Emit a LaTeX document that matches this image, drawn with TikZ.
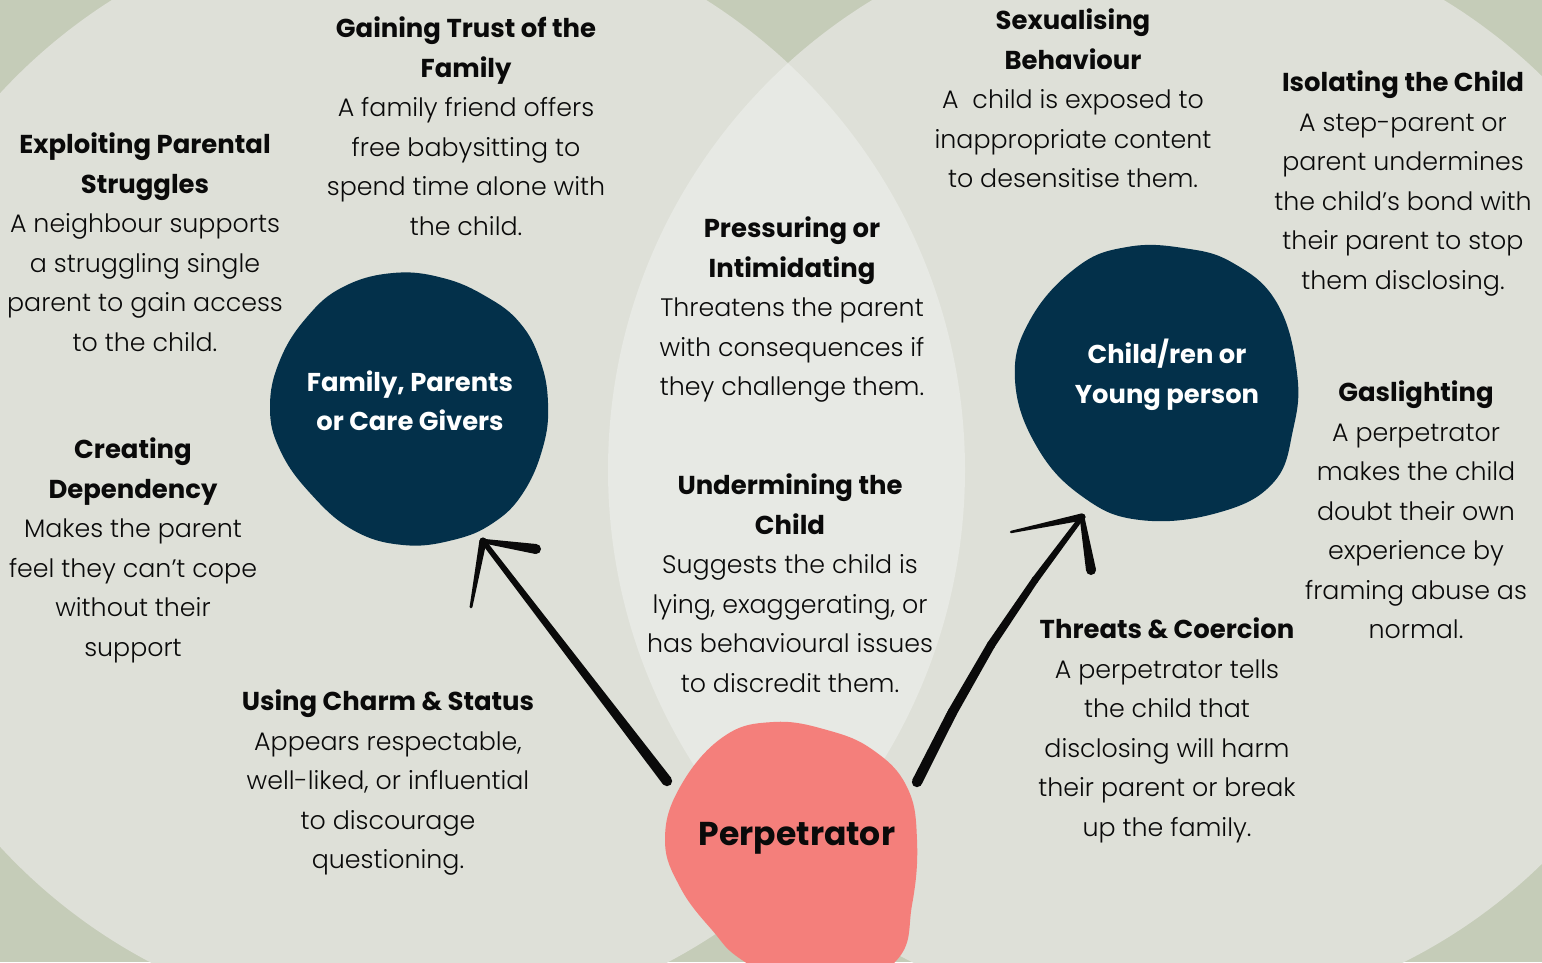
\documentclass[tikz,border=0pt]{standalone}
\usepackage{fontspec}
\setmainfont{Poppins}[UprightFont={* Light},BoldFont={* Bold}]
\usetikzlibrary{calc}

\definecolor{sage}{HTML}{C5CCB8}
\definecolor{mist}{HTML}{DEE0D8}
\definecolor{lensfill}{HTML}{E7E9E4}
\definecolor{navy}{HTML}{03304A}
\definecolor{salmon}{HTML}{F47F7B}
\definecolor{ink}{HTML}{0A0A0A}

% tapered brush segment: from #1 (half width #3) to #2 (half width #4)
\newcommand\brushstroke[4]{%
  \fill[ink] ($(#1)!#3!90:(#2)$) -- ($(#2)!#4!-90:(#1)$) -- ($(#2)!#4!90:(#1)$) -- ($(#1)!#3!-90:(#2)$) -- cycle;
  \fill[ink] (#1) circle[radius=#3];
  \fill[ink] (#2) circle[radius=#4];}
% bold heading line inside a description
\newcommand\blurbhead[1]{{\fontsize{25.9}{39.5}\selectfont\bfseries #1}}

\begin{document}
\begin{tikzpicture}[x=1pt,y=-1pt,
  blurb/.style={align=center,anchor=north,inner sep=0pt,text=ink,
    font=\fontsize{25.3}{39.5}\selectfont},
  bloblabel/.style={align=center,inner sep=0pt,text=white,
    font=\bfseries\fontsize{25.8}{39.5}\selectfont}]
\useasboundingbox (0,0) rectangle (1542,962);
\begin{scope}
\clip (0,0) rectangle (1542,962);
% background and the two overlapping circles
\fill[sage] (0,0) rectangle (1542,962);
\fill[mist] (409,470) circle[radius=556pt];
\fill[mist] (1158,470) circle[radius=550pt];
\begin{scope}
  \clip (409,470) circle[radius=556pt];
  \fill[lensfill] (1158,470) circle[radius=550pt];
\end{scope}

% family blob
\fill[navy] plot[smooth cycle,tension=0.7] coordinates {
  (393,273) (343,287) (307,317) (280,360) (270,407) (280,450) (310,493)
  (353,530) (403,545) (453,540) (493,523) (523,493) (543,447) (548,403)
  (540,360) (520,323) (487,297) (443,278)};
% child blob
\fill[navy] plot[smooth cycle,tension=0.7] coordinates {
  (1127,247) (1077,267) (1030,320) (1015,380) (1037,447) (1083,497)
  (1140,520) (1217,513) (1273,483) (1293,430) (1297,373) (1277,303)
  (1233,263) (1183,248)};
% perpetrator blob
\fill[salmon] plot[smooth cycle,tension=0.7] coordinates {
  (773,722) (723,737) (680,787) (665,840) (680,887) (712,930) (745,962)
  (820,1000) (895,962) (912,905) (917,840) (907,787) (873,750) (827,730)};
\end{scope}

% blob labels
\node[bloblabel] (family) at (410,401) {Family, Parents\\or Care Givers};
\node[bloblabel] (child) at (1167,375) {Child/ren or\\Young person};
\node[inner sep=0pt,text=ink,font=\bfseries\fontsize{33}{40}\selectfont] (perp) at (797,838) {Perpetrator};

% arrow end points
\coordinate (ltail) at (667,781);
\coordinate (ltip) at (483,541);
\coordinate (lbarbA) at (536,549);
\coordinate (lbarbB) at (471,607);
\coordinate (rtail) at (917,782);
\coordinate (rq1) at (952,713);
\coordinate (rmid) at (991,645);
\coordinate (rq3) at (1035,580);
\coordinate (rtip) at (1082,517);
\coordinate (rbarbA) at (1011,532);
\coordinate (rbarbB) at (1091,570);

% brush arrow to the family
\brushstroke{ltail}{ltip}{5.2pt}{2.6pt}
\brushstroke{lbarbA}{ltip}{5pt}{2.2pt}
\brushstroke{ltip}{lbarbB}{3.6pt}{1.4pt}
% brush arrow to the child
\brushstroke{rtail}{rq1}{5.2pt}{4.8pt}
\brushstroke{rq1}{rmid}{4.8pt}{4.2pt}
\brushstroke{rmid}{rq3}{4.2pt}{3.5pt}
\brushstroke{rq3}{rtip}{3.5pt}{2.5pt}
\brushstroke{rtip}{rbarbA}{3.6pt}{1.2pt}
\brushstroke{rbarbB}{rtip}{5pt}{2.4pt}

% descriptions
\node[blurb] (trust) at (466,17) {\blurbhead{Gaining Trust of the}\\\blurbhead{Family}\\A family friend offers\\free babysitting to\\spend time alone with\\the child.};
\node[blurb] (exploit) at (145,133) {\blurbhead{Exploiting Parental}\\\blurbhead{Struggles}\\A neighbour supports\\a struggling single\\parent to gain access\\to the child.};
\node[blurb] (depend) at (133,438) {\blurbhead{Creating}\\\blurbhead{Dependency}\\Makes the parent\\feel they can’t cope\\without their\\support};
\node[blurb] (charm) at (388,690) {\blurbhead{Using Charm \& Status}\\Appears respectable,\\well-liked, or influential\\to discourage\\questioning.};
\node[blurb] (pressure) at (792,217) {\blurbhead{Pressuring or}\\\blurbhead{Intimidating}\\Threatens the parent\\with consequences if\\they challenge them.};
\node[blurb] (undermine) at (790,474) {\blurbhead{Undermining the}\\\blurbhead{Child}\\Suggests the child is\\lying, exaggerating, or\\has behavioural issues\\to discredit them.};
\node[blurb] (sexual) at (1073,9) {\blurbhead{Sexualising}\\\blurbhead{Behaviour}\\A\ \ child is exposed to\\inappropriate content\\to desensitise them.};
\node[blurb] (isolate) at (1403,71) {\blurbhead{Isolating the Child}\\A step-parent or\\parent undermines\\the child’s bond with\\their parent to stop\\them disclosing.};
\node[blurb] (gaslight) at (1416,381) {\blurbhead{Gaslighting}\\A perpetrator\\makes the child\\doubt their own\\experience by\\framing abuse as\\normal.};
\node[blurb] (threat) at (1167,618) {\blurbhead{Threats \& Coercion}\\A perpetrator tells\\the child that\\disclosing will harm\\their parent or break\\up the family.};
\end{tikzpicture}
\end{document}
